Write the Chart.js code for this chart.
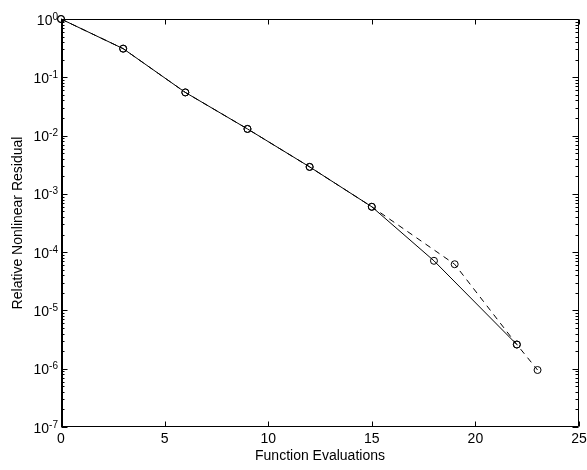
<!DOCTYPE html>
<html lang="en">
<head>
    <meta charset="UTF-8">
    <title>Relative Nonlinear Residual</title>
    <script src="https://cdn.jsdelivr.net/npm/chart.js"></script>
    <style>
        html, body {
            margin: 0;
            padding: 0;
            background: #fff;
        }
        #wrap {
            width: 587px;
            height: 470px;
        }
    </style>
</head>
<body>
    <div id="wrap">
        <canvas id="residualChart"></canvas>
    </div>

    <script>
        // Solid run
        const evals = [0, 3, 6, 9, 12, 15, 18, 22];
        const residual = [1, 0.31, 0.055, 0.013, 0.0029, 0.0006, 7.1e-5, 2.6e-6];

        // Dashed run
        const evalsAlt = [0, 3, 6, 9, 12, 15, 19, 22, 23];
        const residualAlt = [1, 0.31, 0.055, 0.013, 0.0029, 0.0006, 6.2e-5, 2.6e-6, 9.5e-7];

        // Axis ticks
        const xTicks = [0, 5, 10, 15, 20, 25];
        const yDecades = [0, -1, -2, -3, -4, -5, -6, -7];

        const FONT = '"Liberation Sans", Arial, sans-serif';

        function toPoints(xs, ys) {
            return xs.map((v, i) => ({ x: v, y: ys[i] }));
        }

        // Box, inward ticks and 10^k labels, drawn off the chart's scales
        const matlabAxes = {
            id: 'matlabAxes',
            afterDraw(chart) {
                const { ctx, chartArea: a } = chart;
                const xs = chart.scales.x;
                const ys = chart.scales.y;
                ctx.save();
                ctx.strokeStyle = '#000';
                ctx.lineWidth = 1;

                const L = a.left + 0.5, R = a.right - 0.5, T = a.top + 0.5, B = a.bottom - 0.5;
                ctx.beginPath();
                ctx.moveTo(L, T); ctx.lineTo(R, T); ctx.lineTo(R, B); ctx.lineTo(L, B); ctx.closePath();
                ctx.stroke();
                // heavier left spine
                ctx.lineWidth = 2;
                ctx.beginPath();
                ctx.moveTo(a.left + 1, a.top); ctx.lineTo(a.left + 1, a.bottom);
                ctx.stroke();
                ctx.lineWidth = 1;

                ctx.beginPath();
                xTicks.forEach(t => {
                    const px = Math.round(xs.getPixelForValue(t)) + 0.5;
                    ctx.moveTo(px, B); ctx.lineTo(px, B - 5);
                    ctx.moveTo(px, T); ctx.lineTo(px, T + 5);
                });
                yDecades.forEach(k => {
                    const py = Math.round(ys.getPixelForValue(Math.pow(10, k))) + 0.5;
                    ctx.moveTo(L, py); ctx.lineTo(L + 6, py);
                    ctx.moveTo(R, py); ctx.lineTo(R - 6, py);
                });
                // minor ticks 2..9 inside each decade
                yDecades.slice(1).forEach(k => {
                    for (let m = 2; m <= 9; m++) {
                        const py = Math.round(ys.getPixelForValue(m * Math.pow(10, k))) + 0.5;
                        ctx.moveTo(L, py); ctx.lineTo(L + 3, py);
                        ctx.moveTo(R, py); ctx.lineTo(R - 3, py);
                    }
                });
                ctx.stroke();

                ctx.fillStyle = '#000';
                ctx.textBaseline = 'alphabetic';
                ctx.textAlign = 'right';
                yDecades.forEach(k => {
                    const py = ys.getPixelForValue(Math.pow(10, k));
                    const sup = String(k);
                    ctx.font = '10px ' + FONT;
                    const sw = ctx.measureText(sup).width;
                    const right = a.left - 3;
                    ctx.fillText(sup, right, py + 0.5);
                    ctx.font = '14px ' + FONT;
                    ctx.fillText('10', right - sw, py + 5.5);
                });
                ctx.restore();
            }
        };

        const ctx = document.getElementById('residualChart').getContext('2d');

        const residualChart = new Chart(ctx, {
            type: 'line',
            data: {
                datasets: [{
                    data: toPoints(evals, residual),
                    borderColor: '#000',
                    borderWidth: 1,
                    pointStyle: 'circle',
                    pointRadius: 3.5,
                    pointBorderWidth: 1,
                    pointBorderColor: '#000',
                    pointBackgroundColor: 'rgba(0,0,0,0)',
                    clip: false
                }, {
                    data: toPoints(evalsAlt, residualAlt),
                    borderColor: '#000',
                    borderWidth: 1,
                    borderDash: [6, 5],
                    pointStyle: 'circle',
                    pointRadius: 3.5,
                    pointBorderWidth: 1,
                    pointBorderColor: '#000',
                    pointBackgroundColor: 'rgba(0,0,0,0)',
                    clip: false
                }]
            },
            options: {
                responsive: true,
                maintainAspectRatio: false,
                animation: false,
                layout: { padding: { top: 19, right: 8, left: 0, bottom: 0 } },
                plugins: {
                    legend: { display: false },
                    tooltip: { enabled: false }
                },
                scales: {
                    x: {
                        type: 'linear',
                        min: 0,
                        max: 25,
                        afterBuildTicks: s => { s.ticks = xTicks.map(v => ({ value: v })); },
                        ticks: {
                            color: '#000',
                            padding: 4,
                            maxRotation: 0,
                            font: { family: FONT, size: 14 }
                        },
                        grid: { display: false, drawTicks: false },
                        border: { display: false },
                        title: {
                            display: true,
                            text: 'Function Evaluations',
                            color: '#000',
                            font: { family: FONT, size: 14 },
                            padding: { top: 0, bottom: 5 }
                        },
                        afterFit: s => { s.height = 43; s.paddingLeft = 0; s.paddingRight = 0; }
                    },
                    y: {
                        type: 'logarithmic',
                        min: 1e-7,
                        max: 1,
                        ticks: { display: false },
                        grid: { display: false, drawTicks: false },
                        border: { display: false },
                        title: {
                            display: true,
                            text: 'Relative Nonlinear Residual',
                            color: '#000',
                            font: { family: FONT, size: 14 },
                            padding: { top: 10, bottom: 0 }
                        },
                        afterFit: s => { s.width = 61; s.paddingTop = 0; s.paddingBottom = 0; }
                    }
                }
            },
            plugins: [matlabAxes]
        });
    </script>
</body>
</html>
